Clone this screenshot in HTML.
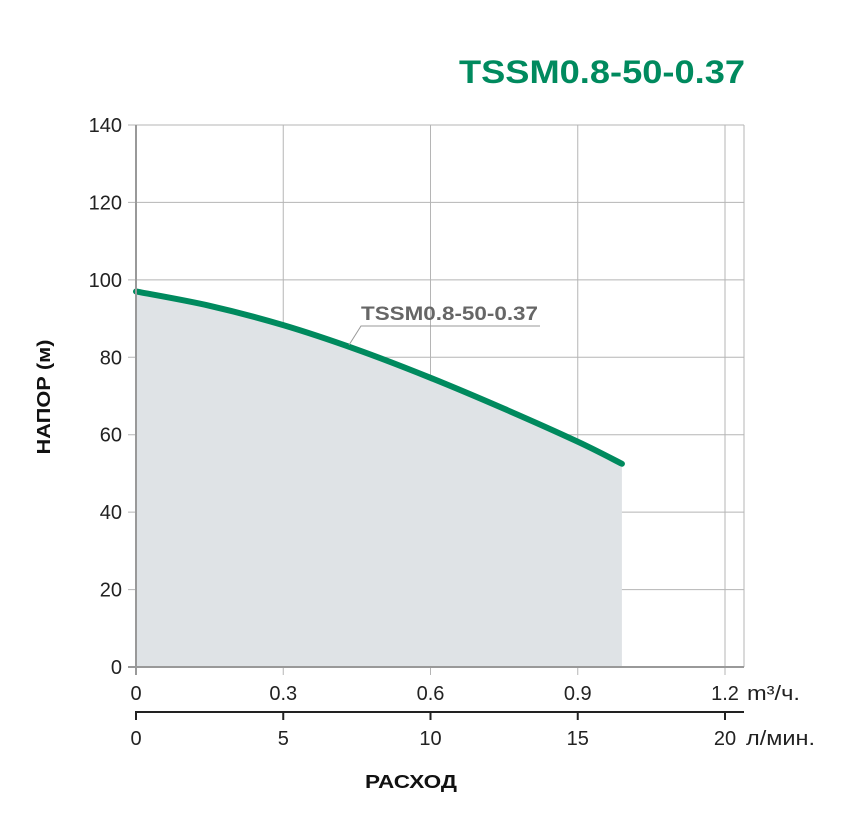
<!DOCTYPE html>
<html><head><meta charset="utf-8">
<style>
body{margin:0;background:#fff;width:842px;height:828px;overflow:hidden}
svg{display:block;font-family:"Liberation Sans",sans-serif}
</style></head>
<body>
<svg id="chart" width="842" height="828" viewBox="0 0 842 828">
<text x="459" y="83" textLength="286" lengthAdjust="spacingAndGlyphs" font-size="32" font-weight="bold" fill="#008a5e">TSSM0.8-50-0.37</text>
<g id="grid"></g>
<g id="marks"></g>
<g id="axes"></g>
<text transform="translate(50,397) rotate(-90)" text-anchor="middle" textLength="115" lengthAdjust="spacingAndGlyphs" font-size="18" font-weight="bold" fill="#111">НАПОР (м)</text>
<text x="411" y="788" text-anchor="middle" textLength="92" lengthAdjust="spacingAndGlyphs" font-size="18" font-weight="bold" fill="#111">РАСХОД</text>
</svg>
<script>
const xFlow = [0, 0.15, 0.3, 0.45, 0.6, 0.75, 0.9, 0.99];
const yHead = [97, 93.3, 88.3, 82, 74.7, 66.7, 58.2, 52.5];
const yTicks = [0, 20, 40, 60, 80, 100, 120, 140];
const xTicks = [0, 0.3, 0.6, 0.9, 1.2];
const xTicksLmin = [0, 5, 10, 15, 20];
const seriesName = "TSSM0.8-50-0.37";

const NS = "http://www.w3.org/2000/svg";
const X0 = 136, X1 = 725, Y0 = 667, Y1 = 125;
const sx = v => X0 + (v / 1.2) * (X1 - X0);
const sxL = v => X0 + (v / 20) * (X1 - X0);
const sy = v => Y0 - (v / 140) * (Y0 - Y1);
function mk(tag, attrs, parent) { const e = document.createElementNS(NS, tag); for (const k in attrs) e.setAttribute(k, attrs[k]); parent.appendChild(e); return e; }
const grid = document.getElementById('grid'), marks = document.getElementById('marks'), axes = document.getElementById('axes');

yTicks.forEach(t => {
  const l = mk('line', {x1: 128, x2: 744, y1: sy(t), y2: sy(t), stroke: '#b5b5b5', 'stroke-width': 1}, grid);
  
  
  const tx = mk('text', {x: 122, y: sy(t) + 7, 'text-anchor': 'end', 'font-size': 20, fill: '#222'}, axes);
  tx.textContent = t;
  
  
});
xTicks.forEach(t => {
  const l = mk('line', {x1: sx(t), x2: sx(t), y1: Y1, y2: Y0 + 8, stroke: '#b5b5b5', 'stroke-width': 1}, grid);
  
  
  const tx = mk('text', {x: sx(t), y: 700, 'text-anchor': 'middle', 'font-size': 20, fill: '#222'}, axes);
  tx.textContent = t;
  
  
});
const rb = mk('line', {x1: 744, x2: 744, y1: Y1, y2: Y0, stroke: '#b5b5b5', 'stroke-width': 1}, grid);



let d = '';
xFlow.forEach((x, i) => { d += (i ? ' L' : 'M') + sx(x) + ',' + sy(yHead[i]); });
const area = mk('path', {d: d + ' L' + sx(xFlow[xFlow.length - 1]) + ',' + sy(0) + ' L' + sx(xFlow[0]) + ',' + sy(0) + ' Z', fill: '#dfe3e6'}, marks);


const pts = xFlow.map((x, i) => [sx(x), sy(yHead[i])]);
let c = 'M' + pts[0][0] + ',' + pts[0][1];
for (let i = 0; i < pts.length - 1; i++) {
  const p0 = pts[Math.max(0, i - 1)], p1 = pts[i], p2 = pts[i + 1], p3 = pts[Math.min(pts.length - 1, i + 2)];
  c += ' C' + (p1[0] + (p2[0] - p0[0]) / 6) + ',' + (p1[1] + (p2[1] - p0[1]) / 6) + ' ' + (p2[0] - (p3[0] - p1[0]) / 6) + ',' + (p2[1] - (p3[1] - p1[1]) / 6) + ' ' + p2[0] + ',' + p2[1];
}
const line = mk('path', {d: c, fill: 'none', stroke: '#008a5e', 'stroke-width': 6, 'stroke-linecap': 'round'}, marks);



const lead = mk('polyline', {points: '349,345 361,326 540,326', fill: 'none', stroke: '#999', 'stroke-width': 1}, marks);


const lab = mk('text', {x: 361, y: 320, 'font-size': 19, 'font-weight': 'bold', fill: '#666', textLength: 177, lengthAdjust: 'spacingAndGlyphs'}, marks);
lab.textContent = seriesName;



const ax = mk('line', {x1: 128, x2: 744, y1: Y0, y2: Y0, stroke: '#999', 'stroke-width': 2}, axes);


const ax2 = mk('line', {x1: 136, x2: 744, y1: 712, y2: 712, stroke: '#222', 'stroke-width': 2}, axes);


const yax = mk('line', {x1: X0, x2: X0, y1: Y1, y2: Y0 + 8, stroke: '#999', 'stroke-width': 2}, axes);


xTicksLmin.forEach(t => {
  const tk = mk('line', {x1: sxL(t), x2: sxL(t), y1: 711, y2: 720, stroke: '#222', 'stroke-width': 2}, axes);
  
  
  const tx = mk('text', {x: sxL(t), y: 745, 'text-anchor': 'middle', 'font-size': 20, fill: '#222'}, axes);
  tx.textContent = t;
  
  
});
const u1 = mk('text', {x: 747, y: 700, 'font-size': 20, fill: '#222', textLength: 53, lengthAdjust: 'spacingAndGlyphs'}, axes);
u1.textContent = 'm³/ч.';


const u2 = mk('text', {x: 746, y: 745, 'font-size': 20, fill: '#222', textLength: 69, lengthAdjust: 'spacingAndGlyphs'}, axes);
u2.textContent = 'л/мин.';


</script>
</body></html>
